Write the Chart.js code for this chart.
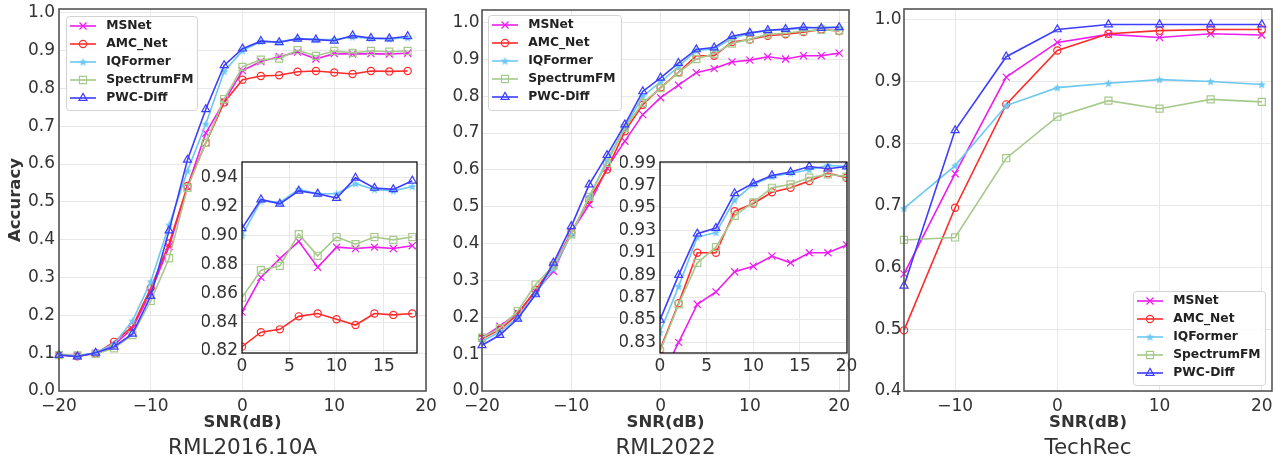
<!DOCTYPE html>
<html><head><meta charset="utf-8">
<script src="https://cdn.jsdelivr.net/npm/chart.js@4.4.1/dist/chart.umd.min.js"></script>
<style>
html,body{margin:0;padding:0;background:#fff;}
#wrap{position:relative;width:1282px;height:461px;overflow:hidden;background:#fff;}
#wrap canvas{position:absolute;left:0;top:0;}
</style></head><body>
<div id="wrap">
<canvas id="c1" width="1282" height="461"></canvas>
<canvas id="c2" width="1282" height="461"></canvas>
<canvas id="c3" width="1282" height="461"></canvas>
<canvas id="i1" width="1282" height="461"></canvas>
<canvas id="i2" width="1282" height="461"></canvas>
</div>
<script>
// ---------------- DATA ----------------
const seriesNames = ['MSNet', 'AMC_Net', 'IQFormer', 'SpectrumFM', 'PWC-Diff'];

// RML2016.10A
const snrA = [-20,-18,-16,-14,-12,-10,-8,-6,-4,-2,0,2,4,6,8,10,12,14,16,18];
const msnetA  = [0.095,0.093,0.100,0.122,0.165,0.262,0.382,0.540,0.682,0.765,0.847,0.871,0.884,0.896,0.878,0.892,0.891,0.892,0.891,0.893];
const amcA    = [0.095,0.092,0.099,0.130,0.170,0.272,0.390,0.542,0.656,0.763,0.823,0.833,0.835,0.844,0.846,0.842,0.838,0.846,0.845,0.846];
const iqfA    = [0.096,0.093,0.101,0.125,0.185,0.289,0.439,0.582,0.706,0.845,0.900,0.924,0.923,0.932,0.929,0.929,0.936,0.932,0.931,0.934];
const specA   = [0.095,0.094,0.098,0.113,0.148,0.238,0.351,0.537,0.656,0.772,0.857,0.876,0.879,0.901,0.886,0.899,0.894,0.899,0.897,0.899];
const pwcA    = [0.095,0.091,0.101,0.117,0.151,0.251,0.424,0.611,0.745,0.861,0.905,0.925,0.922,0.931,0.929,0.926,0.940,0.933,0.932,0.938];

// RML2022
const snrB = [-20,-18,-16,-14,-12,-10,-8,-6,-4,-2,0,2,4,6,8,10,12,14,16,18,20];
const msnetB  = [0.145,0.176,0.212,0.270,0.325,0.430,0.506,0.605,0.678,0.750,0.796,0.830,0.864,0.875,0.893,0.898,0.907,0.901,0.910,0.910,0.917];
const amcB    = [0.142,0.167,0.208,0.275,0.340,0.430,0.520,0.601,0.705,0.777,0.8235,0.865,0.910,0.910,0.947,0.954,0.964,0.968,0.974,0.981,0.977];
const iqfB    = [0.135,0.160,0.200,0.265,0.332,0.425,0.527,0.625,0.715,0.800,0.839,0.880,0.924,0.928,0.957,0.971,0.978,0.981,0.984,0.988,0.987];
const specB   = [0.145,0.170,0.217,0.289,0.340,0.425,0.527,0.619,0.714,0.782,0.822,0.864,0.901,0.915,0.943,0.955,0.968,0.971,0.977,0.980,0.978];
const pwcB    = [0.124,0.152,0.196,0.262,0.348,0.447,0.560,0.640,0.723,0.813,0.850,0.890,0.927,0.932,0.963,0.972,0.979,0.982,0.987,0.985,0.987];

// TechRec
const snrC = [-15,-10,-5,0,5,10,15,20];
const msnetC  = [0.589,0.751,0.907,0.963,0.976,0.971,0.977,0.975];
const amcC    = [0.498,0.696,0.863,0.950,0.977,0.982,0.984,0.984];
const iqfC    = [0.695,0.764,0.861,0.890,0.897,0.903,0.900,0.895];
const specC   = [0.644,0.648,0.776,0.843,0.869,0.856,0.871,0.867];
const pwcC    = [0.570,0.821,0.940,0.984,0.992,0.992,0.992,0.992];

// tick values
const xTicksMain   = [-20,-10,0,10,20];
const yTicksA      = [0.0,0.1,0.2,0.3,0.4,0.5,0.6,0.7,0.8,0.9,1.0];
const yTicksB      = [0.0,0.1,0.2,0.3,0.4,0.5,0.6,0.7,0.8,0.9,1.0];
const xTicksC      = [-10,0,10,20];
const yTicksC      = [0.4,0.5,0.6,0.7,0.8,0.9,1.0];
const xTicksInsetA = [0,5,10,15];
const yTicksInsetA = [0.82,0.84,0.86,0.88,0.90,0.92,0.94];
const xTicksInsetB = [0,5,10,15,20];
const yTicksInsetB = [0.83,0.85,0.87,0.89,0.91,0.93,0.95,0.97,0.99];
const panelTitles  = ['RML2016.10A','RML2022','TechRec'];
const xAxisTitle = 'SNR(dB)';
const yAxisTitle = 'Accuracy';

// ---------------- STYLE ----------------
const FONT = "'DejaVu Sans', 'Liberation Sans', sans-serif";
Chart.defaults.font.family = FONT;
const COLORS = ['#ee1cee', '#ff2b2b', '#6cc8f2', '#a6c98c', '#3d3dff'];
const STYLES = ['crossRot', 'circle', 'STAR', 'rect', 'triangle'];
const RADII  = [5, 3.6, 4.5, 5, 4.6];
const TICK_COLOR = '#333';

function makeStar(color, size) {
  const c = document.createElement('canvas');
  c.width = size; c.height = size;
  const ctx = c.getContext('2d');
  ctx.fillStyle = color;
  ctx.beginPath();
  const cx = size / 2, cy = size / 2 + 0.4, R = size / 2 - 0.2, r = R * 0.45;
  for (let i = 0; i < 10; i++) {
    const a = -Math.PI / 2 + i * Math.PI / 5;
    const rr = (i % 2) ? r : R;
    ctx.lineTo(cx + rr * Math.cos(a), cy + rr * Math.sin(a));
  }
  ctx.closePath();
  ctx.fill();
  return c;
}
const starImg = makeStar(COLORS[2], 9);

function legendIcon(i) {
  const c = document.createElement('canvas');
  c.width = 26; c.height = 12;
  const ctx = c.getContext('2d');
  ctx.strokeStyle = COLORS[i];
  ctx.lineWidth = 1.6;
  ctx.beginPath(); ctx.moveTo(0, 6); ctx.lineTo(26, 6); ctx.stroke();
  if (STYLES[i] === 'STAR') {
    ctx.drawImage(starImg, 13 - starImg.width / 2, 6 - starImg.height / 2);
  } else {
    ctx.fillStyle = 'rgba(0,0,0,0)';
    ctx.lineWidth = 1.2;
    Chart.helpers.drawPoint(ctx, {pointStyle: STYLES[i], radius: RADII[i], borderWidth: 1.2, rotation: 0}, 13, 6);
  }
  return c;
}
const legendIcons = seriesNames.map((_, i) => legendIcon(i));

function buildDatasets(xs, arrays, inset) {
  return arrays.map((arr, i) => ({
    label: seriesNames[i],
    data: xs.map((x, j) => ({x: x, y: arr[j]})),
    borderColor: COLORS[i],
    backgroundColor: COLORS[i],
    borderWidth: 1.6,
    pointStyle: STYLES[i] === 'STAR' ? starImg : STYLES[i],
    pointRadius: RADII[i],
    pointBorderWidth: 1.2,
    pointBorderColor: COLORS[i],
    pointBackgroundColor: 'rgba(0,0,0,0)',
    tension: 0,
    order: arrays.length - i,
    clip: inset ? 0 : 10
  }));
}

const framePlugin = (color, width, fillBg) => ({
  id: 'frame',
  beforeDraw(chart) {
    if (!fillBg) return;
    const a = chart.chartArea, ctx = chart.ctx;
    ctx.save(); ctx.fillStyle = '#fff';
    ctx.fillRect(a.left, a.top, a.right - a.left, a.bottom - a.top);
    ctx.restore();
  },
  afterDraw(chart) {
    const a = chart.chartArea, ctx = chart.ctx;
    ctx.save(); ctx.strokeStyle = color; ctx.lineWidth = width;
    ctx.strokeRect(a.left, a.top, a.right - a.left, a.bottom - a.top);
    ctx.restore();
  }
});

const LEG_PAD = 5.7;
const LEG_FONT = 12.3;
const legendBoxPlugin = (f) => ({
  id: 'legendBox',
  beforeLayout(chart) {
    const lg = chart.legend;
    if (!lg) return;
    lg._layers = function () {
      return [{z: 1, draw(ca) {
        const ctx = chart.ctx;
        ctx.save();
        ctx.beginPath();
        if (ctx.roundRect) ctx.roundRect(f.x + 0.5, f.y + 0.5, f.w, f.h, 3); else ctx.rect(f.x + 0.5, f.y + 0.5, f.w, f.h);
        ctx.fillStyle = 'rgba(255,255,255,0.85)';
        ctx.fill();
        ctx.strokeStyle = '#d3d3d3'; ctx.lineWidth = 1;
        ctx.stroke();
        ctx.restore();
        lg.draw(ca);
      }}];
    };
  },
  afterLayout(chart) {
    const lg = chart.legend;
    if (!lg) return;
    lg.left = f.x - LEG_PAD; lg.right = lg.left + lg.width + 10;
    lg.top = f.y + 10 - LEG_PAD - LEG_FONT / 2; lg.bottom = lg.top + lg.height;
  }
});

const fmtX = (v) => (v < 0 ? '\u2212' + Math.abs(v) : String(v));

function mainChart(id, o) {
  const W = 1282, H = 461;
  const titleH = 21.5 * 1.2;
  const xAxisH = H - titleH - o.area.bottom;
  return new Chart(document.getElementById(id), {
    type: 'line',
    data: {datasets: buildDatasets(o.xs, o.series, false)},
    options: {
      responsive: false, animation: false, devicePixelRatio: 1, events: [],
      layout: {padding: {left: o.area.left - o.yW, right: W - o.area.right, top: o.area.top, bottom: 0}},
      scales: {
        x: {
          type: 'linear', min: o.xMin, max: o.xMax,
          afterBuildTicks: (s) => { s.ticks = o.xTicks.map(v => ({value: v})); },
          afterFit: (s) => { s.height = xAxisH; s.paddingLeft = 0; s.paddingRight = 0; },
          grid: {color: '#e8e8e8', lineWidth: 1, drawTicks: false, z: -1},
          border: {display: false},
          ticks: {color: TICK_COLOR, font: {size: 17}, padding: 5, maxRotation: 0, callback: (v) => fmtX(v)},
          title: {display: true, text: xAxisTitle, color: '#333', font: {size: 16.5, weight: 'bold'}, padding: {top: 0, bottom: 3}}
        },
        y: {
          type: 'linear', min: o.yMin, max: o.yMax,
          afterBuildTicks: (s) => { s.ticks = o.yTicks.map(v => ({value: v})); },
          afterFit: (s) => { s.width = o.yW; s.paddingTop = 0; s.paddingBottom = 0; },
          grid: {color: '#e8e8e8', lineWidth: 1, drawTicks: false, z: -1},
          border: {display: false},
          ticks: {color: TICK_COLOR, font: {size: 17}, padding: o.yPad, callback: (v) => Number(v).toFixed(1)},
          title: {display: !!o.yTitle, text: o.yTitle || '', color: '#333', font: {size: 16.5, weight: 'bold'}, padding: {top: 6, bottom: 0}}
        }
      },
      plugins: {
        title: {display: true, text: o.title, position: 'bottom', fullSize: false, color: '#333',
                font: {size: 21.5, weight: 'normal'}, padding: {top: 0, bottom: 0}},
        legend: {
          display: true, position: 'chartArea', align: 'start',
          labels: {
            usePointStyle: true, pointStyleWidth: 34, padding: LEG_PAD, color: '#222',
            font: {size: LEG_FONT, weight: 'bold'},
            sort: (a, b) => a.datasetIndex - b.datasetIndex,
            generateLabels: (chart) => {
              const items = Chart.defaults.plugins.legend.labels.generateLabels(chart);
              items.forEach(it => { it.pointStyle = legendIcons[it.datasetIndex]; });
              return items;
            }
          }
        },
        tooltip: {enabled: false}
      }
    },
    plugins: [framePlugin('#555', 1.6, false), legendBoxPlugin(o.legend)]
  });
}

function insetChart(id, o) {
  const W = 1282, H = 461;
  const xH = 20;
  return new Chart(document.getElementById(id), {
    type: 'line',
    data: {datasets: buildDatasets(o.xs, o.series, true)},
    options: {
      responsive: false, animation: false, devicePixelRatio: 1, events: [],
      layout: {padding: {left: o.area.left - o.yW, right: W - o.area.right, top: o.area.top, bottom: H - o.area.bottom - xH}},
      scales: {
        x: {
          type: 'linear', min: o.xMin, max: o.xMax,
          afterBuildTicks: (s) => { s.ticks = o.xTicks.map(v => ({value: v})); },
          afterFit: (s) => { s.height = xH; s.paddingLeft = 0; s.paddingRight = 0; },
          grid: {color: '#e8e8e8', lineWidth: 1, drawTicks: false, z: -1},
          border: {display: false},
          ticks: {color: TICK_COLOR, font: {size: 17}, padding: 3, maxRotation: 0, callback: (v) => fmtX(v)}
        },
        y: {
          type: 'linear', min: o.yMin, max: o.yMax,
          afterBuildTicks: (s) => { s.ticks = o.yTicks.map(v => ({value: v})); },
          afterFit: (s) => { s.width = o.yW; s.paddingTop = 0; s.paddingBottom = 0; },
          grid: {color: '#e8e8e8', lineWidth: 1, drawTicks: false, z: -1},
          border: {display: false},
          ticks: {color: TICK_COLOR, font: {size: 17}, padding: 4, callback: (v) => Number(v).toFixed(2)}
        }
      },
      plugins: {legend: {display: false}, title: {display: false}, tooltip: {enabled: false}}
    },
    plugins: [framePlugin('#000', 1.2, true)]
  });
}

mainChart('c1', {
  xs: snrA, series: [msnetA, amcA, iqfA, specA, pwcA],
  area: {left: 59, right: 426, top: 9, bottom: 391}, yW: 59, yPad: 4,
  xMin: -20, xMax: 20, yMin: 0, yMax: 1.01, xTicks: xTicksMain, yTicks: yTicksA,
  title: panelTitles[0], yTitle: yAxisTitle,
  legend: {x: 66, y: 16, w: 131, h: 94}
});
mainChart('c2', {
  xs: snrB, series: [msnetB, amcB, iqfB, specB, pwcB],
  area: {left: 482, right: 849, top: 10, bottom: 391}, yW: 40, yPad: 2.5,
  xMin: -20, xMax: 21.1, yMin: 0, yMax: 1.034, xTicks: xTicksMain, yTicks: yTicksB,
  title: panelTitles[1], yTitle: null,
  legend: {x: 488, y: 15, w: 133, h: 95}
});
mainChart('c3', {
  xs: snrC, series: [msnetC, amcC, iqfC, specC, pwcC],
  area: {left: 904, right: 1272, top: 9, bottom: 391}, yW: 40, yPad: 2.5,
  xMin: -15, xMax: 21, yMin: 0.4, yMax: 1.017, xTicks: xTicksC, yTicks: yTicksC,
  title: panelTitles[2], yTitle: null,
  legend: {x: 1133, y: 291, w: 132, h: 94}
});
insetChart('i1', {
  xs: snrA, series: [msnetA, amcA, iqfA, specA, pwcA],
  area: {left: 242, right: 417, top: 162, bottom: 353}, yW: 40,
  xMin: 0, xMax: 18.5, yMin: 0.8186, yMax: 0.951, xTicks: xTicksInsetA, yTicks: yTicksInsetA
});
insetChart('i2', {
  xs: snrB, series: [msnetB, amcB, iqfB, specB, pwcB],
  area: {left: 660, right: 847, top: 162, bottom: 353}, yW: 40,
  xMin: 0, xMax: 20.05, yMin: 0.8205, yMax: 0.991, xTicks: xTicksInsetB, yTicks: yTicksInsetB
});
</script>
</body></html>
